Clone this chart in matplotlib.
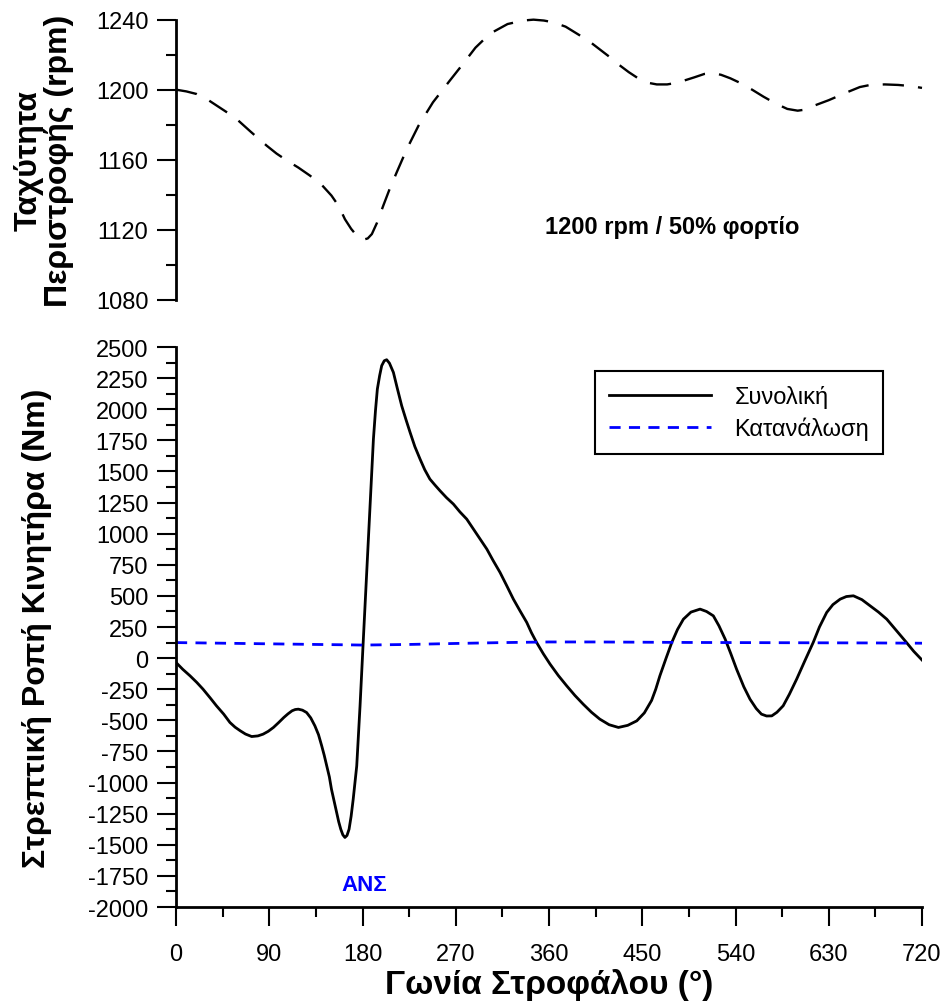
import matplotlib
matplotlib.use("Agg")
import matplotlib.pyplot as plt
from matplotlib.ticker import MultipleLocator

plt.rcParams['font.family'] = ['Liberation Sans', 'DejaVu Sans']
plt.rcParams['axes.unicode_minus'] = False

# Speed (rpm) vs crank angle
rpm_deg = [0, 10, 20, 30, 39, 48, 57, 72, 87.5, 97, 107, 118, 129, 140, 150,
           157, 163, 169, 174.4, 180.8, 185, 189, 194, 200, 206, 213, 222.7,
           234, 248, 264, 276, 289, 303, 320, 335, 345, 355, 364, 376, 387,
           398, 409, 420, 428, 437, 446, 455, 464, 474, 484, 500, 510, 518,
           526, 535, 544, 556, 567, 579, 590, 600, 606, 612, 630, 648, 660,
           670, 684, 697, 710, 720]
rpm_val = [1200, 1199, 1197.5, 1194.5, 1191, 1187.5, 1184, 1176, 1168, 1163.5,
           1159.5, 1155.5, 1151, 1146, 1139.5, 1133.5, 1126, 1120.5, 1116.6,
           1114.3, 1115, 1117.5, 1124, 1133.7, 1143, 1152.8, 1166, 1179.4,
           1192.8, 1205, 1214, 1224, 1232, 1237.5, 1239.5, 1240, 1239.5,
           1238.5, 1236, 1232, 1228, 1223, 1218, 1214, 1210, 1206.5, 1204,
           1203, 1203, 1204, 1207, 1209, 1209.5, 1208.5, 1206.5, 1204, 1200,
           1196, 1192, 1189, 1188, 1188.5, 1190, 1194, 1198.6, 1201.5, 1202.7,
           1203, 1202.7, 1202, 1201]

# Total engine torque (Nm)
tq_deg = [0, 6.5, 13.5, 20, 26, 33, 39, 46, 52, 57, 62, 67, 73, 79, 84, 89, 94,
          99, 104, 108, 112, 115, 118, 122, 126, 130, 134, 137.5, 140.6, 143,
          145.5, 148, 150, 152.5, 155, 157, 159, 161, 163, 165, 167, 169, 171,
          172.7, 174.4, 176, 177.6, 179, 180.5, 184, 187.3, 190.5, 192.5,
          194.3, 196.5, 198.5, 201, 203.3, 206, 209.8, 213.5, 217.8, 222,
          225.9, 230.5, 235.5, 240, 245, 250, 254.8, 261, 267.7, 274, 280.6,
          287, 293.4, 300, 306, 312.7, 319, 325.6, 332, 338.5, 343, 348,
          354.5, 361, 369, 377, 385, 393, 401, 409, 418, 427, 436, 444.7, 452,
          459, 463, 467, 473, 478.5, 484, 489.7, 497, 505.8, 512, 518.6, 524,
          530, 535.5, 541, 548, 554, 560, 565, 570, 575, 580, 586, 592, 599,
          607, 615, 621, 628, 634, 641, 647, 653.8, 662, 670, 678, 686, 695,
          705, 712, 720]
tq_val = [-35, -90, -142, -195, -249, -320, -383, -450, -517, -555, -584, -610,
          -630, -625, -611, -588, -557, -518, -477, -448, -423, -413, -410,
          -418, -437, -480, -544, -615, -705, -780, -866, -955, -1053, -1145,
          -1240, -1315, -1375, -1420, -1441, -1425, -1375, -1270, -1133, -1000,
          -866, -630, -383, -140, 105, 689, 1224, 1760, 1990, 2162, 2270, 2350,
          2390, 2398, 2370, 2296, 2170, 2028, 1915, 1814, 1700, 1600, 1515,
          1439, 1390, 1345, 1290, 1238, 1175, 1117, 1037, 957, 876, 785, 689,
          585, 474, 380, 287, 205, 126, 35, -48, -140, -222, -300, -370, -435,
          -490, -535, -557, -540, -504, -440, -340, -250, -142, 0, 126, 230,
          313, 370, 394, 375, 340, 260, 153, 35, -88, -230, -330, -405, -450,
          -465, -464, -435, -383, -290, -169, -20, 126, 250, 367, 430, 474,
          495, 501, 470, 420, 370, 313, 225, 126, 55, -15]

# Load (consumption) torque (Nm)
load_deg = [0, 45, 90, 135, 165, 180, 225, 270, 315, 360, 405, 450, 495, 540,
            585, 630, 675, 720]
load_val = [125, 120, 115, 110, 107, 105, 110, 118, 125, 130, 130, 128, 126,
            125, 124, 123, 122, 120]

fig = plt.figure(figsize=(9.47, 10.03), dpi=100)
ax1 = fig.add_axes([0.1859, 0.7002, 0.7877, 0.2792])
ax2 = fig.add_axes([0.1859, 0.0947, 0.7877, 0.5583])

tick_font = 17

# top panel
ax1.plot(rpm_deg, rpm_val, color='black', lw=1.7, linestyle=(0, (9, 6)),
         clip_on=False)
ax1.set_xlim(0, 720)
ax1.set_ylim(1080, 1240)
for s in ['top', 'right', 'bottom']:
    ax1.spines[s].set_visible(False)
ax1.spines['left'].set_linewidth(2)
ax1.xaxis.set_visible(False)
ax1.yaxis.set_major_locator(MultipleLocator(40))
ax1.yaxis.set_minor_locator(MultipleLocator(20))
ax1.tick_params(axis='y', which='major', length=14, width=1.5,
                labelsize=tick_font, pad=6)
ax1.tick_params(axis='y', which='minor', length=7, width=1.5)
ax1.set_ylabel('Ταχύτητα\nΠεριστροφής (rpm)', fontsize=23, fontweight='bold',
               labelpad=16, linespacing=1.0)
ax1.text(479, 1122, '1200 rpm / 50% φορτίο', fontsize=17, fontweight='bold',
         ha='center', va='center')

# bottom panel
ax2.plot(tq_deg, tq_val, color='black', lw=2, label='Συνολική')
ax2.plot(load_deg, load_val, color='blue', lw=2, linestyle=(0, (4, 3)),
         label='Κατανάλωση')
ax2.set_xlim(0, 720)
ax2.set_ylim(-2000, 2500)
for s in ['top', 'right']:
    ax2.spines[s].set_visible(False)
for s in ['left', 'bottom']:
    ax2.spines[s].set_linewidth(2)
ax2.xaxis.set_major_locator(MultipleLocator(90))
ax2.xaxis.set_minor_locator(MultipleLocator(45))
ax2.yaxis.set_major_locator(MultipleLocator(250))
ax2.yaxis.set_minor_locator(MultipleLocator(125))
ax2.tick_params(which='major', length=14, width=1.5, labelsize=tick_font, pad=6)
ax2.tick_params(which='minor', length=7, width=1.5)
ax2.tick_params(axis='x', pad=12)
ax2.set_xlabel('Γωνία Στροφάλου (°)', fontsize=24, fontweight='bold', labelpad=2)
ax2.set_ylabel('Στρεπτική Ροπή Κινητήρα (Nm)', fontsize=23, fontweight='bold',
               labelpad=26)
ax2.text(182, -1817, 'ΑΝΣ', color='blue', fontsize=16, fontweight='bold',
         ha='center', va='center')

leg = ax2.legend(loc='upper right', bbox_to_anchor=(0.948, 0.957),
                 fontsize=17, fancybox=False, framealpha=1, edgecolor='black',
                 handlelength=4.3, handletextpad=1.0, borderpad=0.6,
                 labelspacing=0.35, borderaxespad=0)
leg.get_frame().set_linewidth(1.5)

fig.savefig('out.png', dpi=100)
